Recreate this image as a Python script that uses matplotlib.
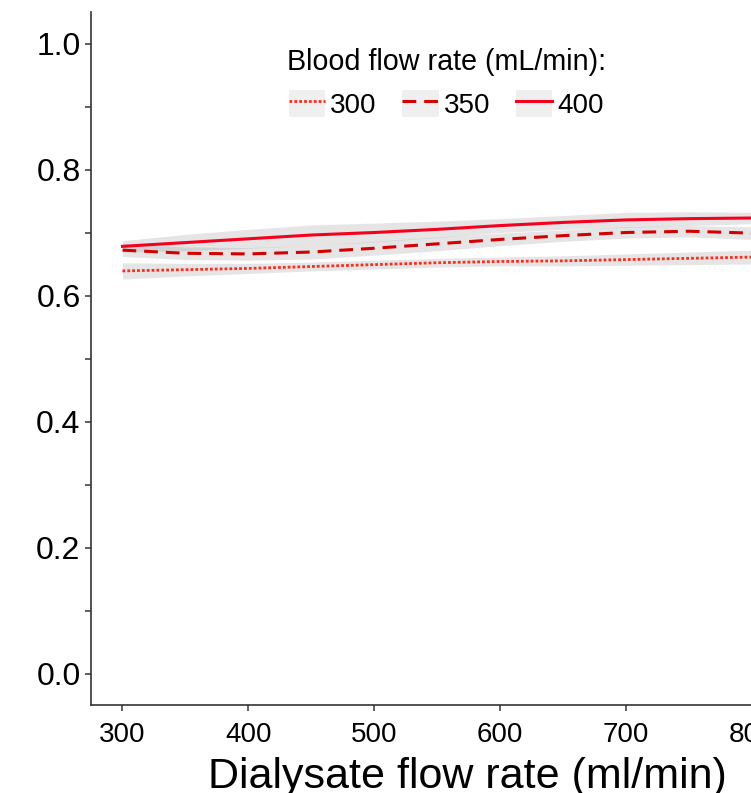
import numpy as np
import matplotlib
matplotlib.use('Agg')
import matplotlib.pyplot as plt
from matplotlib.legend_handler import HandlerLine2D
from matplotlib.patches import Rectangle

plt.rcParams['font.family'] = ['Liberation Sans', 'DejaVu Sans']

# dialysate flow rate (ml/min)
dialysate = [300, 350, 400, 450, 500, 550, 600, 650, 700, 750, 800]

# fitted curves for each blood flow rate
fit_300 = [0.639, 0.641, 0.643, 0.646, 0.649, 0.652, 0.654, 0.655, 0.657, 0.659, 0.661]
fit_350 = [0.672, 0.667, 0.666, 0.669, 0.675, 0.682, 0.689, 0.695, 0.700, 0.702, 0.699]
fit_400 = [0.678, 0.684, 0.690, 0.696, 0.700, 0.705, 0.711, 0.716, 0.720, 0.722, 0.723]

# half widths of confidence bands
se_300 = [0.013, 0.010, 0.008, 0.007, 0.007, 0.007, 0.007, 0.008, 0.009, 0.010, 0.011]
se_350 = [0.010, 0.010, 0.010, 0.011, 0.011, 0.011, 0.010, 0.009, 0.009, 0.009, 0.010]
se_400 = [0.009, 0.013, 0.015, 0.016, 0.015, 0.013, 0.011, 0.011, 0.012, 0.011, 0.009]

labels = ['300', '350', '400']
y_ticks = [0.0, 0.2, 0.4, 0.6, 0.8, 1.0]
x_ticks = [300, 400, 500, 600, 700, 800]


class KeyHandler(HandlerLine2D):
    # ggplot-like grey key background
    def create_artists(self, legend, orig_handle, xdescent, ydescent,
                       width, height, fontsize, trans):
        bg = Rectangle((-xdescent, -ydescent), width, height,
                       facecolor='#EFEFEF', edgecolor='none', transform=trans)
        arts = super().create_artists(legend, orig_handle, xdescent, ydescent,
                                      width, height, fontsize, trans)
        return [bg] + list(arts)


fig = plt.figure(figsize=(7.51, 7.93), dpi=100)
ax = fig.add_axes([91 / 751, 88 / 793, 692.5 / 751, 693 / 793])

x = np.array(dialysate)
series = [
    (fit_300, se_300, '#FF2B1A', (0, (1, 0.75)), 2.0),
    (fit_350, se_350, '#D40000', (0, (4.5, 2.6)), 2.2),
    (fit_400, se_400, '#F5001E', '-', 2.2),
]
handles = []
for (fit, se, col, ls, lw), lab in zip(series, labels):
    fit = np.array(fit)
    se = np.array(se)
    ax.fill_between(x, fit - se, fit + se, color='#999999', alpha=0.25, lw=0)
    h, = ax.plot(x, fit, color=col, linestyle=ls, lw=lw, label=lab)
    handles.append(h)

ax.set_xlim(275, 825)
ax.set_ylim(-0.05, 1.05)
ax.set_xticks(x_ticks)
ax.set_yticks(y_ticks)
ax.set_yticks([0.1, 0.3, 0.5, 0.7, 0.9], minor=True)
ax.set_yticklabels(['%.1f' % v for v in y_ticks])

for s in ['top', 'right']:
    ax.spines[s].set_visible(False)
for s in ['left', 'bottom']:
    ax.spines[s].set_color('#333333')
    ax.spines[s].set_linewidth(1.2)

ax.tick_params(axis='both', which='both', length=4.5, width=1.1, color='#333333')
ax.tick_params(axis='y', labelsize=23, pad=3)
ax.tick_params(axis='x', labelsize=20, pad=8)

ax.set_xlabel('Dialysate flow rate (ml/min)', fontsize=31)
ax.xaxis.set_label_coords(0.543, -0.075)

leg = ax.legend(handles=handles, labels=labels, ncol=3, loc='upper center',
                bbox_to_anchor=(0.513, 0.968), frameon=False, fontsize=20,
                title='Blood flow rate (mL/min):', title_fontsize=20.7,
                handlelength=1.3, handleheight=1.1, handletextpad=0.18,
                columnspacing=0.94, borderpad=0,
                handler_map={h: KeyHandler() for h in handles})

fig.savefig('out.png', dpi=100)
